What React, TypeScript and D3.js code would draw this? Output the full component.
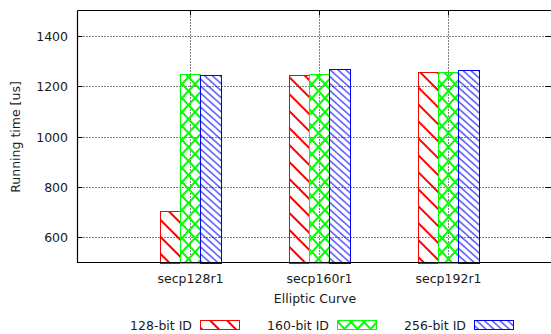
import React from "react";
import { scaleLinear } from "d3";

const curves = ["secp128r1", "secp160r1", "secp192r1"];
const seriesNames = ["128-bit ID", "160-bit ID", "256-bit ID"];
const id128 = [705, 1244, 1254];
const id160 = [1248, 1247, 1255];
const id256 = [1245, 1266, 1263];
const yTicks = [600, 800, 1000, 1200, 1400];

const series = [
  { name: seriesNames[0], values: id128, color: "#ff0000", pat: "pRed" },
  { name: seriesNames[1], values: id160, color: "#00ff00", pat: "pGreen" },
  { name: seriesNames[2], values: id256, color: "#0000ff", pat: "pBlue" },
];

const W = 551;
const H = 334;
const left = 77.5;
const right = 551.5;
const top = 10.5;
const bottom = 262.5;
const font = "DejaVu Sans, sans-serif";

// crosshatch tile size for the green bars
const gw = 13;
const gh = 14;

const App = () => {
  const x = scaleLinear().domain([-0.875, 2.8]).range([left, right]);
  const y = scaleLinear().domain([500, 1500]).range([bottom, top]);
  const bw = 0.157; // bar width in category units

  // legend layout: right end of each label
  const legendX = [192, 329, 466];

  return (
    <svg
      width={W}
      height={H}
      style={{ position: "absolute", left: 0, top: 0, display: "block" }}
      fontFamily={font}
    >
      <defs>
        <pattern id="pRed" patternUnits="userSpaceOnUse" width={12} height={12}
          patternTransform="rotate(45)">
          <line x1={0} y1={6} x2={12} y2={6} stroke="#ff0000" strokeWidth={2} />
        </pattern>
        <pattern id="pGreen" patternUnits="userSpaceOnUse" width={gw} height={gh}>
          {[-gw, 0, gw].map((dx) => (
            <g key={dx}>
              <line x1={dx} y1={0} x2={dx + gw} y2={gh} stroke="#00ff00" strokeWidth={2} />
              <line x1={dx + gw} y1={0} x2={dx} y2={gh} stroke="#00ff00" strokeWidth={2} />
            </g>
          ))}
        </pattern>
        <pattern id="pBlue" patternUnits="userSpaceOnUse" width={5.2} height={5.2}
          patternTransform="rotate(42)">
          <line x1={0} y1={2.6} x2={5.2} y2={2.6} stroke="#0000ff" strokeWidth={1} />
        </pattern>
      </defs>

      <rect x={0} y={0} width={W} height={H} fill="#fff" />

      {/* grid */}
      {yTicks.map((t) => (
        <line key={"gy" + t} x1={left} x2={right} y1={Math.round(y(t)) + 0.5} y2={Math.round(y(t)) + 0.5}
          stroke="#000" strokeDasharray="1,2" strokeWidth={1} />
      ))}
      {curves.map((c, i) => (
        <line key={"gx" + c} x1={Math.round(x(i)) + 0.5} x2={Math.round(x(i)) + 0.5} y1={top} y2={bottom}
          stroke="#000" strokeDasharray="1,2" strokeWidth={1} />
      ))}

      {/* ticks */}
      {yTicks.map((t) => {
        const yy = Math.round(y(t)) + 0.5;
        return (
          <g key={"ty" + t}>
            <line x1={left} x2={left + 5} y1={yy} y2={yy} stroke="#000" />
            <line x1={right - 6} x2={right} y1={yy} y2={yy} stroke="#000" />
            <text x={68} y={yy} fontSize={12.5} textAnchor="end" dominantBaseline="central" fill="#1a1a1a">
              {t}
            </text>
          </g>
        );
      })}
      {curves.map((c, i) => {
        const xx = Math.round(x(i)) + 0.5;
        return (
          <g key={"tx" + c}>
            <line x1={xx} x2={xx} y1={top} y2={top + 5} stroke="#000" />
            <text x={xx} y={278} fontSize={12.5} textAnchor="middle" dominantBaseline="central" fill="#1a1a1a">
              {c}
            </text>
          </g>
        );
      })}

      {/* bars */}
      {series.map((s, j) =>
        s.values.map((v, i) => {
          const x0 = x(i + (j - 1.5) * bw);
          const x1 = x(i + (j - 0.5) * bw);
          return (
            <rect key={s.name + i} x={Math.round(x0) + 0.5} y={Math.round(y(v)) + 0.5}
              width={Math.round(x1) - Math.round(x0)} height={Math.round(bottom) - Math.round(y(v))}
              fill={`url(#${s.pat})`} stroke={s.color} strokeWidth={1} />
          );
        })
      )}

      {/* border */}
      <path d={`M${left},${top}H${right}M${left},${top}V${bottom}H${right}`} fill="none" stroke="#000" strokeWidth={1.2} />

      {/* axis labels */}
      <text x={315} y={298} fontSize={12.5} textAnchor="middle" dominantBaseline="central" fill="#1a1a1a">
        Elliptic Curve
      </text>
      <text transform="translate(15,137) rotate(-90)" fontSize={12.5} textAnchor="middle" dominantBaseline="central" fill="#1a1a1a">
        Running time [us]
      </text>

      {/* legend */}
      {series.map((s, j) => (
        <g key={"lg" + s.name}>
          <text x={legendX[j]} y={325} fontSize={12.5} textAnchor="end" dominantBaseline="central" fill="#1a1a1a">
            {s.name}
          </text>
          <rect x={legendX[j] + 8.5} y={320.5} width={39} height={9} fill={`url(#${s.pat})`} stroke={s.color} />
        </g>
      ))}
    </svg>
  );
};

export default App;
